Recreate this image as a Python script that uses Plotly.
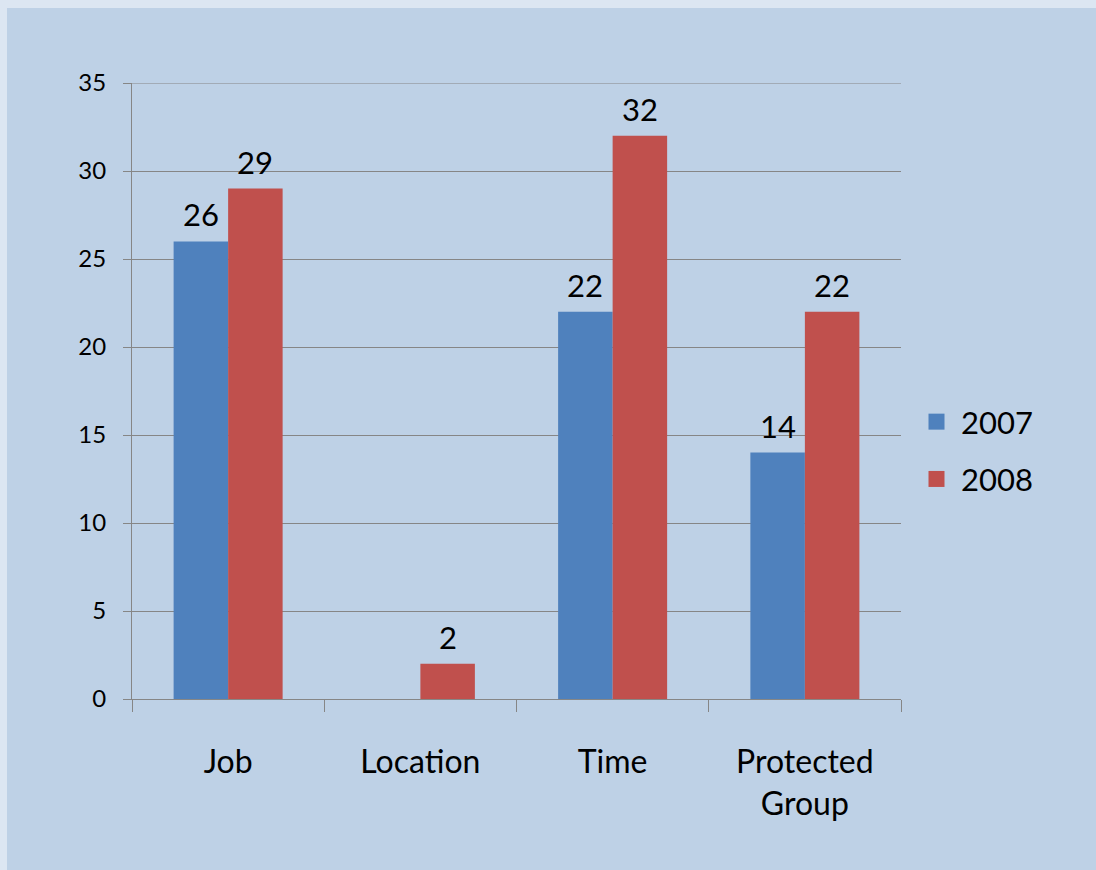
import plotly.graph_objects as go

categories = ["Job", "Location", "Time", "Protected<br>Group"]
series_names = ["2007", "2008"]
values_2007 = [26, 0, 22, 14]
values_2008 = [29, 2, 32, 22]
y_ticks = [0, 5, 10, 15, 20, 25, 30, 35]

colors = ["#4F81BD", "#C0504D"]
FONT = "Lato, Carlito, Calibri, sans-serif"

W, H = 1096, 870
L, R, T, B = 132, 901, 83, 699
pw, ph = R - L, B - T
BARGAP = 0.433

def px_x(p):
    return (p - L) / pw

def px_y(p):
    return (B - p) / ph

fig = go.Figure()
for name, vals, col in zip(series_names, [values_2007, values_2008], colors):
    fig.add_trace(go.Bar(
        x=categories, y=vals, name=name, marker=dict(color=col, line=dict(width=0)),
        showlegend=False, hoverinfo="x+y+name",
    ))
# legend entries (large square swatches like the original)
for name, col in zip(series_names, colors):
    fig.add_trace(go.Scatter(
        x=[None], y=[None], mode="markers", name=name, legendgroup=name,
        marker=dict(symbol="square", size=22, color=col),
    ))

# data labels above each bar
cat_px = pw / len(categories)
bar_px = cat_px * (1 - BARGAP) / len(series_names)
for si, vals in enumerate([values_2007, values_2008]):
    offset = (si - (len(series_names) - 1) / 2) * bar_px
    for cat, v in zip(categories, vals):
        if v == 0:
            continue
        fig.add_annotation(x=cat, y=v, text=str(v), showarrow=False,
                           xanchor="center", yanchor="bottom", xshift=offset, yshift=6,
                           font=dict(size=31, color="black", family=FONT))

fig.add_shape(type="rect", xref="paper", yref="paper",
              x0=px_x(7), x1=px_x(W + 20), y0=px_y(H + 20), y1=px_y(8),
              fillcolor="#BED1E6", line=dict(width=0), layer="below")

fig.update_layout(
    width=W, height=H,
    margin=dict(l=L, r=W - R, t=T, b=H - B),
    paper_bgcolor="#DCE6F2",
    plot_bgcolor="rgba(0,0,0,0)",
    barmode="group", bargap=BARGAP, bargroupgap=0,
    font=dict(family=FONT, color="black"),
    showlegend=True,
    legend=dict(x=px_x(912), y=px_y(395), xanchor="left", yanchor="top",
                font=dict(size=31, family=FONT), traceorder="grouped",
                tracegroupgap=14, bgcolor="rgba(0,0,0,0)", itemwidth=39),
    xaxis=dict(type="category", tickson="boundaries", ticks="outside", ticklen=12,
               tickcolor="#868686", showline=True, linecolor="#868686", linewidth=1,
               tickfont=dict(size=32, family=FONT), showgrid=False, zeroline=False,
               ticklabelstandoff=35),
    yaxis=dict(range=[0, 35], tickvals=y_ticks, ticks="outside", ticklen=8,
               tickcolor="#868686", showline=True, linecolor="#868686", linewidth=1,
               showgrid=True, gridcolor="#868686", gridwidth=1, zeroline=False,
               tickfont=dict(size=24, family=FONT), ticklabelstandoff=12),
)
fig.add_shape(type="line", xref="paper", yref="y", x0=0, x1=1, y0=35, y1=35,
              line=dict(color="#868686", width=1))

fig.write_html("out.html", config={"displayModeBar": False},
               post_script="document.body.style.margin='0';")
